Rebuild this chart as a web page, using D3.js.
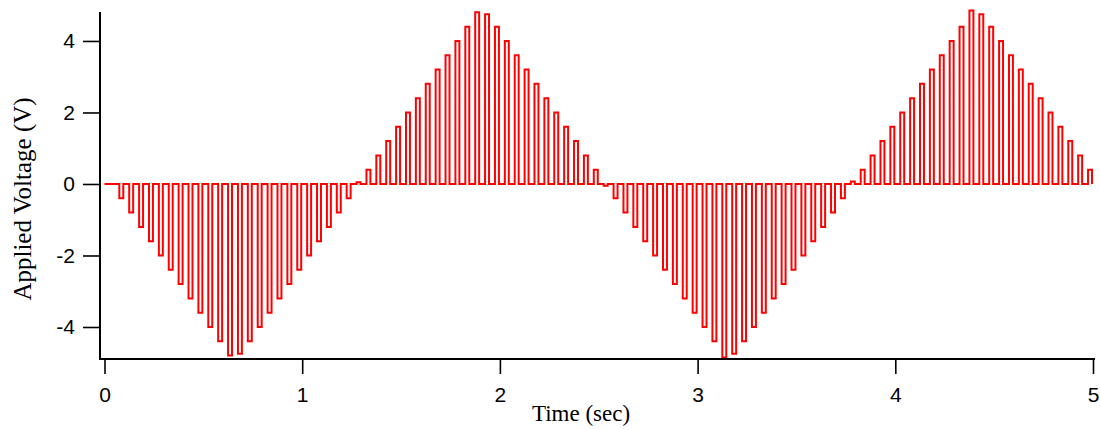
<!DOCTYPE html>
<html>
<head>
<meta charset="utf-8">
<script src="https://cdn.jsdelivr.net/npm/d3@7"></script>
<style>
  html, body { margin: 0; padding: 0; background: #fff; }
  svg { display: block; }
</style>
</head>
<body>
<svg id="chart" width="1100" height="430"></svg>
<script>
// ---- data ----
const xTicks = [0, 1, 2, 3, 4, 5];
const yTicks = [-4, -2, 0, 2, 4];
const xTitle = "Time (sec)";
const yTitle = "Applied Voltage (V)";

// pulse timing (s)
const pulseStart = 0.075;
const pulsePeriod = 0.05;
const pulseWidth = 0.02;

// pulse amplitudes (V), one per pulse
const lobe1 = [-0.4, -0.8, -1.2, -1.6, -2.0, -2.4, -2.8, -3.2, -3.6, -4.0, -4.4, -4.8,
               -4.75, -4.4, -4.0, -3.6, -3.2, -2.8, -2.4, -2.0, -1.6, -1.2, -0.8, -0.4, 0.05];
const lobe2 = [0.4, 0.8, 1.2, 1.6, 2.0, 2.4, 2.8, 3.2, 3.6, 4.0, 4.4, 4.8,
               4.75, 4.4, 4.0, 3.6, 3.2, 2.8, 2.4, 2.0, 1.6, 1.2, 0.8, 0.4, -0.05];
const lobe3 = [-0.4, -0.8, -1.2, -1.6, -2.0, -2.4, -2.8, -3.2, -3.6, -4.0, -4.4, -4.85,
               -4.75, -4.4, -4.0, -3.6, -3.2, -2.8, -2.4, -2.0, -1.6, -1.2, -0.8, -0.4, 0.07];
const lobe4 = [0.4, 0.8, 1.2, 1.6, 2.0, 2.4, 2.8, 3.2, 3.6, 4.0, 4.4, 4.85,
               4.75, 4.4, 4.0, 3.6, 3.2, 2.8, 2.4, 2.0, 1.6, 1.2, 0.8, 0.4];
const amplitudes = [...lobe1, ...lobe2, ...lobe3, ...lobe4];

// ---- build the waveform points ----
const points = [[0, 0]];
amplitudes.forEach((a, k) => {
  const s = pulseStart + k * pulsePeriod;
  points.push([s, a]);
  points.push([s + pulseWidth, 0]);
});

// ---- layout ----
const svg = d3.select("#chart");
const axisLeftX = 100, axisBottomY = 359, axisTopY = 12, axisRightX = 1095;

const x = d3.scaleLinear().domain([0, 5]).range([104.5, 1093]);
const y = d3.scaleLinear().domain([-4.895, 4.81]).range([axisBottomY, axisTopY]);

svg.append("defs").append("clipPath").attr("id", "clip")
  .append("rect").attr("x", axisLeftX).attr("y", 0)
  .attr("width", axisRightX - axisLeftX).attr("height", 430);

// waveform
const line = d3.line()
  .x(d => x(d[0]))
  .y(d => y(d[1]))
  .curve(d3.curveStepAfter);

svg.append("path")
  .datum(points)
  .attr("clip-path", "url(#clip)")
  .attr("fill", "none")
  .attr("stroke", "#ff0000")
  .attr("stroke-width", 2)
  .attr("stroke-linejoin", "miter")
  .attr("d", line);

const tickFont = "'Liberation Sans', Arial, sans-serif";

// y axis
const yAxis = d3.axisLeft(y).tickValues(yTicks).tickSize(17).tickPadding(8)
  .tickFormat(d => String(d));
const gy = svg.append("g").attr("transform", `translate(${axisLeftX},0)`).call(yAxis);
gy.select(".domain").remove();
gy.selectAll(".tick line").attr("stroke", "#000").attr("stroke-width", 1.6);
gy.selectAll(".tick text")
  .attr("font-family", tickFont)
  .attr("font-size", 21).attr("fill", "#000");
svg.append("line")
  .attr("x1", axisLeftX).attr("x2", axisLeftX)
  .attr("y1", axisTopY).attr("y2", axisBottomY + 1)
  .attr("stroke", "#000").attr("stroke-width", 2);

// x axis
const xAxis = d3.axisBottom(x).tickValues(xTicks).tickSize(15).tickPadding(13)
  .tickFormat(d => String(d));
const gx = svg.append("g").attr("transform", `translate(0,${axisBottomY})`).call(xAxis);
gx.select(".domain").remove();
gx.selectAll(".tick line").attr("stroke", "#000").attr("stroke-width", 1.6);
gx.selectAll(".tick text")
  .attr("font-family", tickFont)
  .attr("font-size", 21).attr("fill", "#000");
svg.append("line")
  .attr("x1", axisLeftX - 1).attr("x2", axisRightX)
  .attr("y1", axisBottomY).attr("y2", axisBottomY)
  .attr("stroke", "#000").attr("stroke-width", 2);

// titles
svg.append("text")
  .attr("x", 581).attr("y", 421)
  .attr("text-anchor", "middle")
  .attr("font-family", "'Liberation Serif', 'Times New Roman', serif")
  .attr("font-size", 23).attr("fill", "#000")
  .text(xTitle);

svg.append("text")
  .attr("transform", "translate(31,199) rotate(-90)")
  .attr("text-anchor", "middle")
  .attr("font-family", "'Liberation Serif', 'Times New Roman', serif")
  .attr("font-size", 25).attr("fill", "#000")
  .text(yTitle);
</script>
</body>
</html>
